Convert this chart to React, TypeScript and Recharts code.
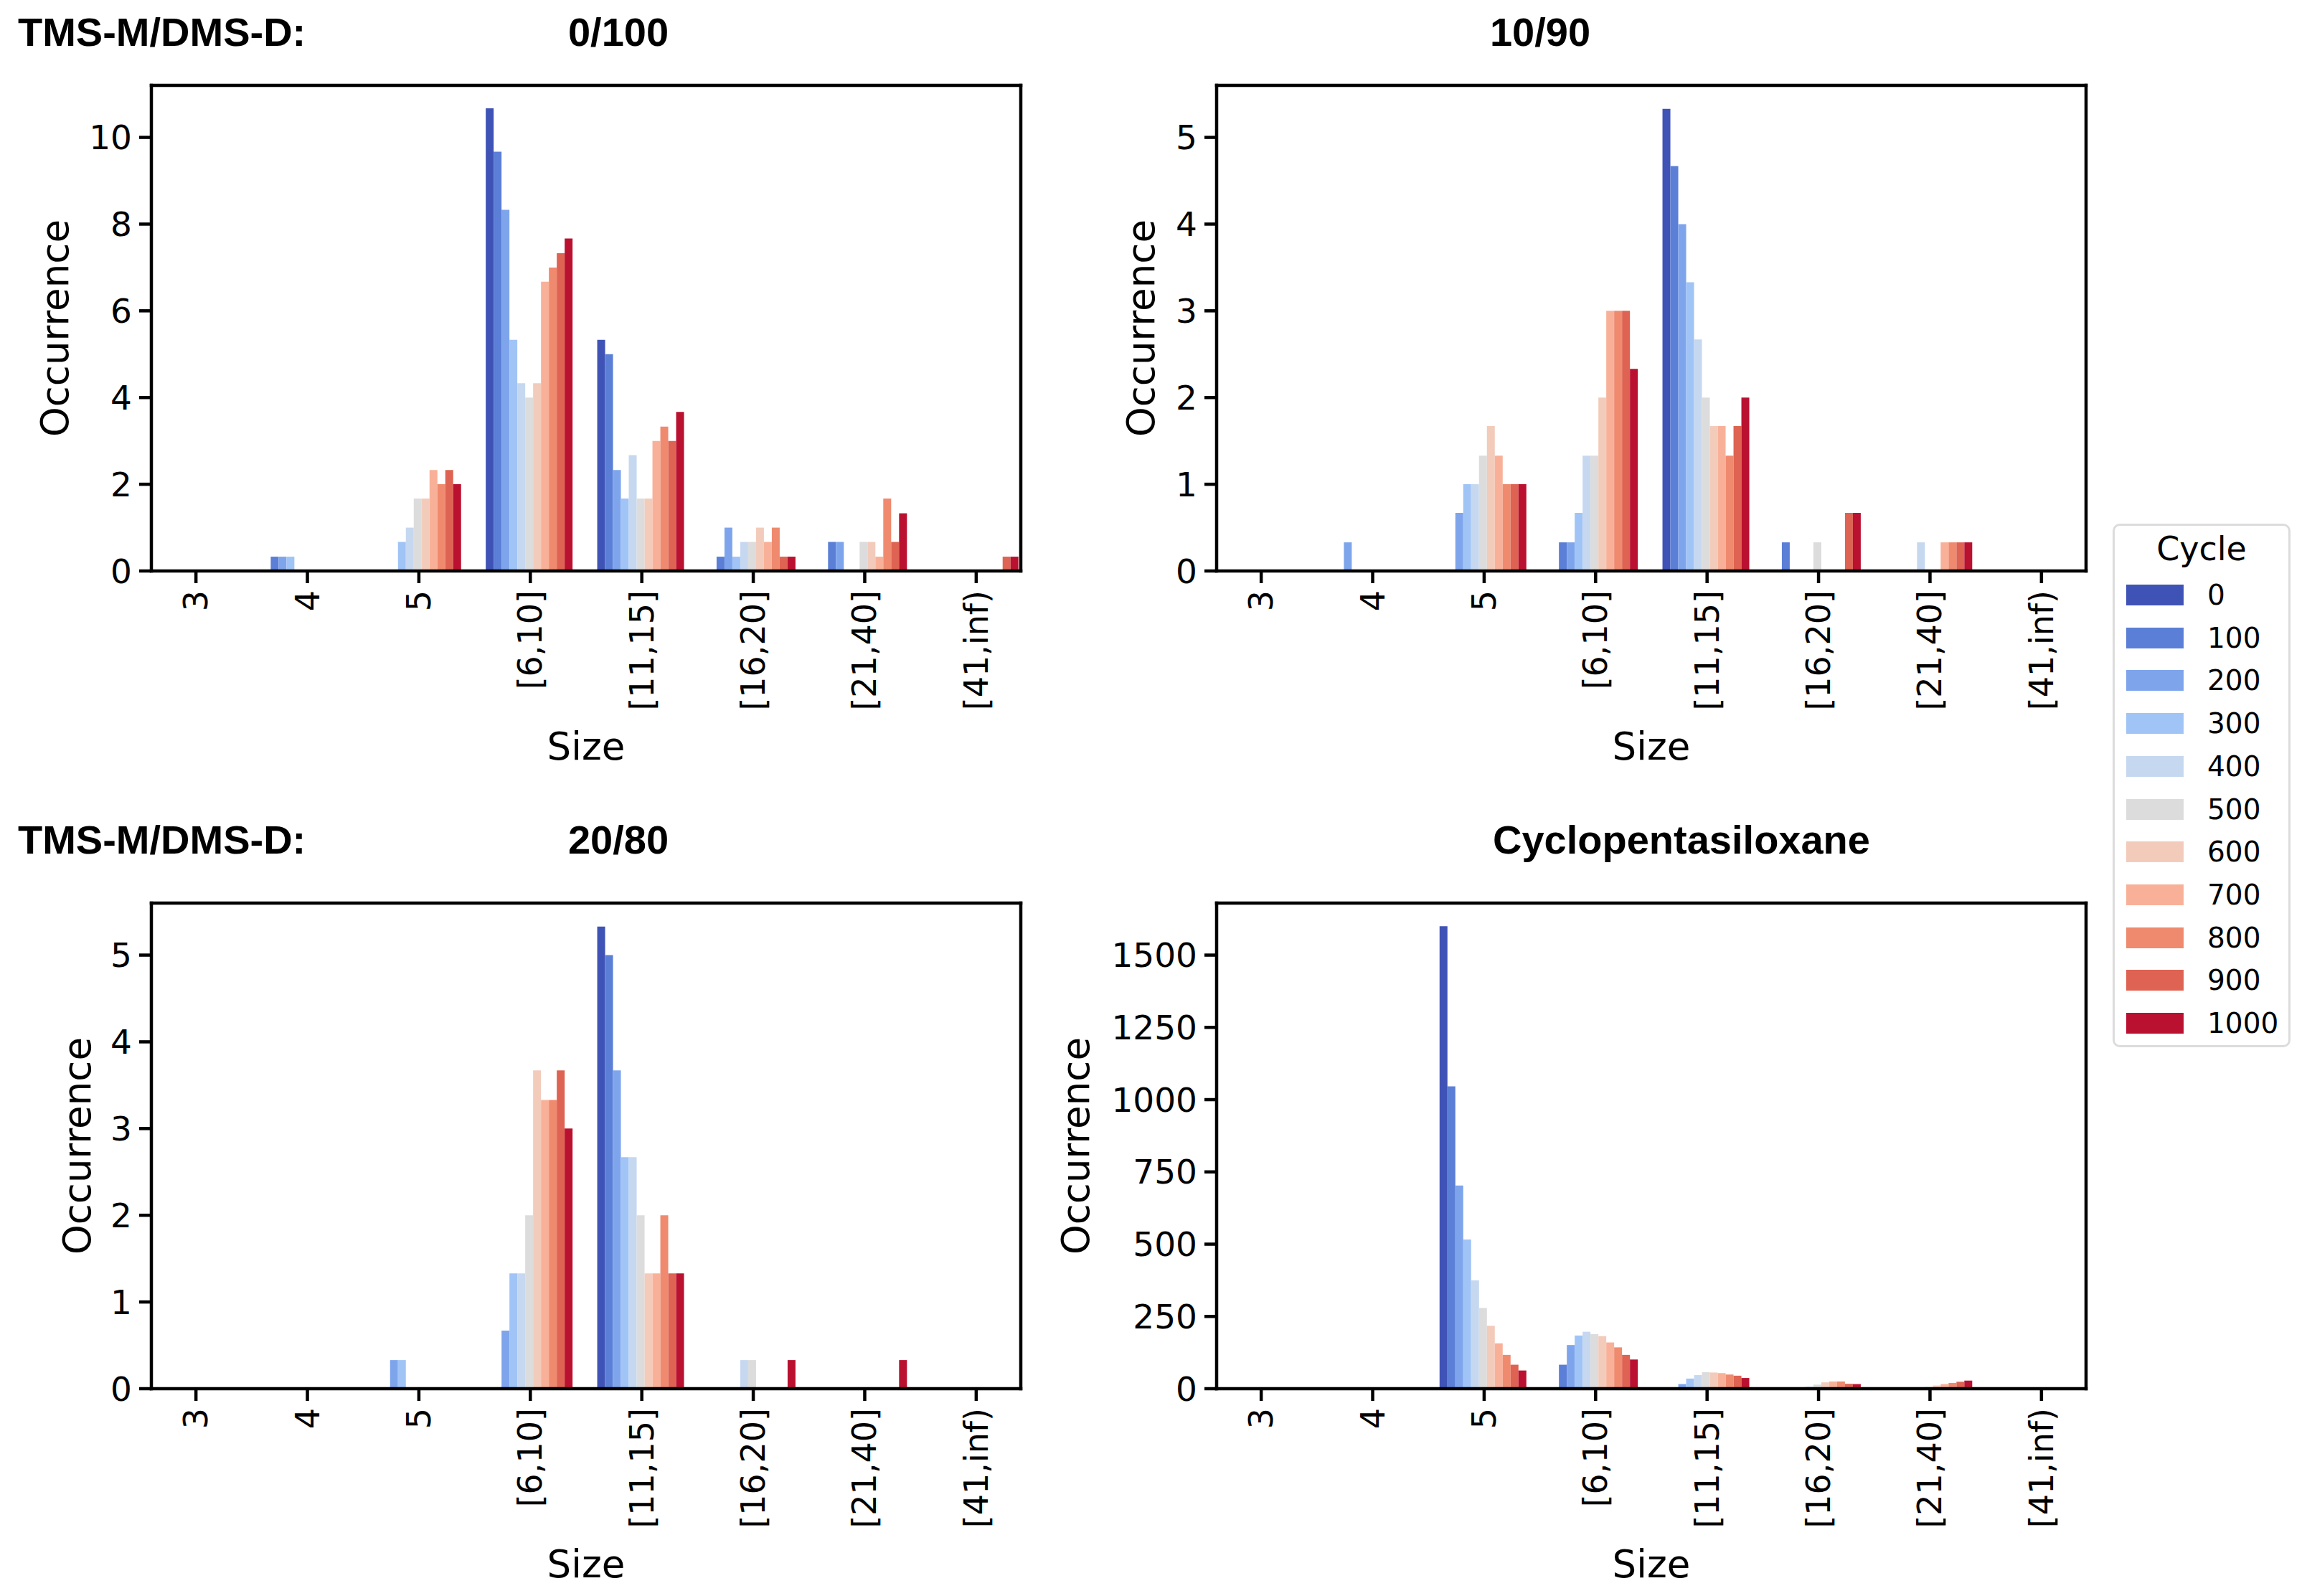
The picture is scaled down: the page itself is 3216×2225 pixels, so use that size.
import React from "react";
import { Bar, BarChart, Label, XAxis, YAxis } from "recharts";

// size bins on the x axis
const sizes = ["3", "4", "5", "[6,10]", "[11,15]", "[16,20]", "[21,40]", "[41,inf)"];

// cycles and the coolwarm colours used for them
const cycles = [0, 100, 200, 300, 400, 500, 600, 700, 800, 900, 1000];
const cycleColors = [
  "#3f53b6",
  "#5b7fd6",
  "#7ea5ec",
  "#a1c4f6",
  "#c6d8f0",
  "#dcdcdc",
  "#f3cbbb",
  "#f8b198",
  "#ef8a6f",
  "#de6352",
  "#ba1131",
];

// one row per cycle, one value per size bin
const mix0_100 = [
  [0, 0, 0, 10.67, 5.33, 0, 0, 0],
  [0, 0.33, 0, 9.67, 5, 0.33, 0.67, 0],
  [0, 0.33, 0, 8.33, 2.33, 1, 0.67, 0],
  [0, 0.33, 0.67, 5.33, 1.67, 0.33, 0, 0],
  [0, 0, 1, 4.33, 2.67, 0.67, 0, 0],
  [0, 0, 1.67, 4, 1.67, 0.67, 0.67, 0],
  [0, 0, 1.67, 4.33, 1.67, 1, 0.67, 0],
  [0, 0, 2.33, 6.67, 3, 0.67, 0.33, 0],
  [0, 0, 2, 7, 3.33, 1, 1.67, 0],
  [0, 0, 2.33, 7.33, 3, 0.33, 0.67, 0.33],
  [0, 0, 2, 7.67, 3.67, 0.33, 1.33, 0.33],
];

const mix10_90 = [
  [0, 0, 0, 0, 5.33, 0, 0, 0],
  [0, 0, 0, 0.33, 4.67, 0.33, 0, 0],
  [0, 0.33, 0.67, 0.33, 4, 0, 0, 0],
  [0, 0, 1, 0.67, 3.33, 0, 0, 0],
  [0, 0, 1, 1.33, 2.67, 0, 0.33, 0],
  [0, 0, 1.33, 1.33, 2, 0.33, 0, 0],
  [0, 0, 1.67, 2, 1.67, 0, 0, 0],
  [0, 0, 1.33, 3, 1.67, 0, 0.33, 0],
  [0, 0, 1, 3, 1.33, 0, 0.33, 0],
  [0, 0, 1, 3, 1.67, 0.67, 0.33, 0],
  [0, 0, 1, 2.33, 2, 0.67, 0.33, 0],
];

const mix20_80 = [
  [0, 0, 0, 0, 5.33, 0, 0, 0],
  [0, 0, 0, 0, 5, 0, 0, 0],
  [0, 0, 0.33, 0.67, 3.67, 0, 0, 0],
  [0, 0, 0.33, 1.33, 2.67, 0, 0, 0],
  [0, 0, 0, 1.33, 2.67, 0.33, 0, 0],
  [0, 0, 0, 2, 2, 0.33, 0, 0],
  [0, 0, 0, 3.67, 1.33, 0, 0, 0],
  [0, 0, 0, 3.33, 1.33, 0, 0, 0],
  [0, 0, 0, 3.33, 2, 0, 0, 0],
  [0, 0, 0, 3.67, 1.33, 0, 0, 0],
  [0, 0, 0, 3, 1.33, 0.33, 0.33, 0],
];

const cyclopenta = [
  [0, 0, 1600, 0, 0, 0, 0, 0],
  [0, 0, 1046, 83, 2, 0, 0, 0],
  [0, 0, 703, 151, 16, 2, 0, 0],
  [0, 0, 516, 184, 35, 4, 3, 0],
  [0, 0, 375, 197, 47, 7, 4, 0],
  [0, 0, 279, 189, 57, 14, 6, 0],
  [0, 0, 218, 182, 56, 22, 11, 0],
  [0, 0, 157, 160, 54, 25, 16, 3],
  [0, 0, 117, 143, 49, 25, 20, 4],
  [0, 0, 83, 117, 45, 17, 24, 5],
  [0, 0, 63, 101, 37, 16, 28, 5],
];

const ticks0_100 = [0, 2, 4, 6, 8, 10];
const ticksMix = [0, 1, 2, 3, 4, 5];
const ticksCyclo = [0, 250, 500, 750, 1000, 1250, 1500];

const FONT = "'DejaVu Sans', sans-serif";
const PLOT_W = 1212;
const PLOT_H = 677;
const YW = 240;
const XH = 300;
const PAD = 10;
const LINE = 4.5;

const panels = [
  { id: "a", rows: mix0_100, yMax: 11.2, ticks: ticks0_100, left: 211, top: 119, occDx: 135 },
  { id: "b", rows: mix10_90, yMax: 5.6, ticks: ticksMix, left: 1696, top: 119, occDx: 106 },
  { id: "c", rows: mix20_80, yMax: 5.6, ticks: ticksMix, left: 211, top: 1259, occDx: 104 },
  { id: "d", rows: cyclopenta, yMax: 1680, ticks: ticksCyclo, left: 1696, top: 1259, occDx: 197 },
];

function toData(rows: number[][]) {
  return sizes.map((size, j) => {
    const row: Record<string, number | string> = { size };
    cycles.forEach((c, i) => {
      row[`c${c}`] = rows[i][j];
    });
    return row;
  });
}

function SizeTick(props: any) {
  const { x, y, payload } = props;
  return (
    <text
      x={x}
      y={y}
      transform={`rotate(-90 ${x} ${y})`}
      textAnchor="end"
      dominantBaseline="central"
      fontSize={46}
      fontFamily={FONT}
      fill="#000"
    >
      {payload.value}
    </text>
  );
}

function YTitle(props: any) {
  const { viewBox, dx } = props;
  const cx = viewBox.x + viewBox.width - dx;
  const cy = viewBox.y + viewBox.height / 2;
  return (
    <text
      x={cx}
      y={cy}
      transform={`rotate(-90 ${cx} ${cy})`}
      textAnchor="middle"
      dominantBaseline="central"
      fontSize={53}
      fontFamily={FONT}
      fill="#000"
    >
      Occurrence
    </text>
  );
}

function XTitle(props: any) {
  const { viewBox } = props;
  return (
    <text
      x={viewBox.x + viewBox.width / 2}
      y={viewBox.y + 244}
      textAnchor="middle"
      dominantBaseline="central"
      fontSize={53}
      fontFamily={FONT}
      fill="#000"
    >
      Size
    </text>
  );
}

const axisLine = { stroke: "#000", strokeWidth: LINE, strokeLinecap: "square" as const };
const tickLine = { stroke: "#000", strokeWidth: LINE };

function Panel({ p }: { p: (typeof panels)[number] }) {
  const data = toData(p.rows);
  const bandPad = PLOT_W / 7.8 / 10;
  return (
    <div style={{ position: "absolute", left: p.left - YW, top: p.top - PAD - 1 }}>
      <BarChart
        width={YW + PLOT_W + PAD + 1}
        height={PAD + 1 + PLOT_H + XH}
        data={data}
        margin={{ top: PAD, right: PAD, left: 0, bottom: 0 }}
        barCategoryGap="10%"
        barGap={0}
      >
        <XAxis
          dataKey="size"
          interval={0}
          height={XH}
          padding={{ left: -bandPad, right: -bandPad }}
          tick={<SizeTick />}
          tickSize={17}
          tickMargin={10}
          tickLine={tickLine}
          axisLine={axisLine}
        >
          <Label content={(lp: any) => <XTitle {...lp} />} />
        </XAxis>
        <XAxis
          xAxisId="top"
          orientation="top"
          dataKey="size"
          height={1}
          tick={false}
          tickLine={false}
          axisLine={axisLine}
        />
        <YAxis
          type="number"
          domain={[0, p.yMax]}
          ticks={p.ticks}
          interval={0}
          width={YW}
          tickSize={17}
          tickMargin={10}
          tickLine={tickLine}
          axisLine={axisLine}
          tick={{ fontSize: 47, fill: "#000", fontFamily: FONT }}
        >
          <Label content={(lp: any) => <YTitle {...lp} dx={p.occDx} />} />
        </YAxis>
        <YAxis
          yAxisId="right"
          orientation="right"
          width={1}
          domain={[0, p.yMax]}
          tick={false}
          tickLine={false}
          axisLine={axisLine}
        />
        {cycles.map((c, i) => (
          <Bar
            key={c}
            dataKey={`c${c}`}
            fill={cycleColors[i]}
            isAnimationActive={false}
          />
        ))}
      </BarChart>
    </div>
  );
}

const titleStyle: React.CSSProperties = {
  position: "absolute",
  fontFamily: "'Liberation Sans', Arial, sans-serif",
  fontWeight: "bold",
  fontSize: 56,
  lineHeight: "56px",
  whiteSpace: "nowrap",
};

function Title({ text, x, y, center }: { text: string; x: number; y: number; center?: boolean }) {
  return (
    <div
      style={{
        ...titleStyle,
        left: x,
        top: y,
        transform: center ? "translate(-50%, -50%)" : "translateY(-50%)",
      }}
    >
      {text}
    </div>
  );
}

function CycleLegend() {
  return (
    <div
      style={{
        position: "absolute",
        left: 2945,
        top: 730,
        width: 248,
        height: 730,
        boxSizing: "border-box",
        border: "3px solid #dcdcdc",
        borderRadius: 10,
        background: "#fff",
        fontFamily: FONT,
      }}
    >
      <div
        style={{
          position: "absolute",
          left: 0,
          right: 0,
          top: 35 - 3,
          transform: "translateY(-50%)",
          textAlign: "center",
          fontSize: 46,
          lineHeight: "46px",
        }}
      >
        Cycle
      </div>
      {cycles.map((c, i) => {
        const cy = 99 - 3 + i * 59.7;
        return (
          <React.Fragment key={c}>
            <div
              style={{
                position: "absolute",
                left: 16,
                top: cy - 14,
                width: 80,
                height: 29,
                background: cycleColors[i],
              }}
            />
            <div
              style={{
                position: "absolute",
                left: 129,
                top: cy,
                transform: "translateY(-50%)",
                fontSize: 39,
                lineHeight: "39px",
              }}
            >
              {c}
            </div>
          </React.Fragment>
        );
      })}
    </div>
  );
}

export default function App() {
  return (
    <div
      style={{
        position: "absolute",
        left: 0,
        top: 0,
        width: 3216,
        height: 2225,
        background: "#fff",
        overflow: "hidden",
      }}
    >
      {panels.map((p) => (
        <Panel key={p.id} p={p} />
      ))}
      <Title text="TMS-M/DMS-D:" x={25} y={45} />
      <Title text="0/100" x={862} y={45} center />
      <Title text="10/90" x={2147} y={45} center />
      <Title text="TMS-M/DMS-D:" x={25} y={1171} />
      <Title text="20/80" x={862} y={1171} center />
      <Title text="Cyclopentasiloxane" x={2344} y={1171} center />
      <CycleLegend />
    </div>
  );
}
